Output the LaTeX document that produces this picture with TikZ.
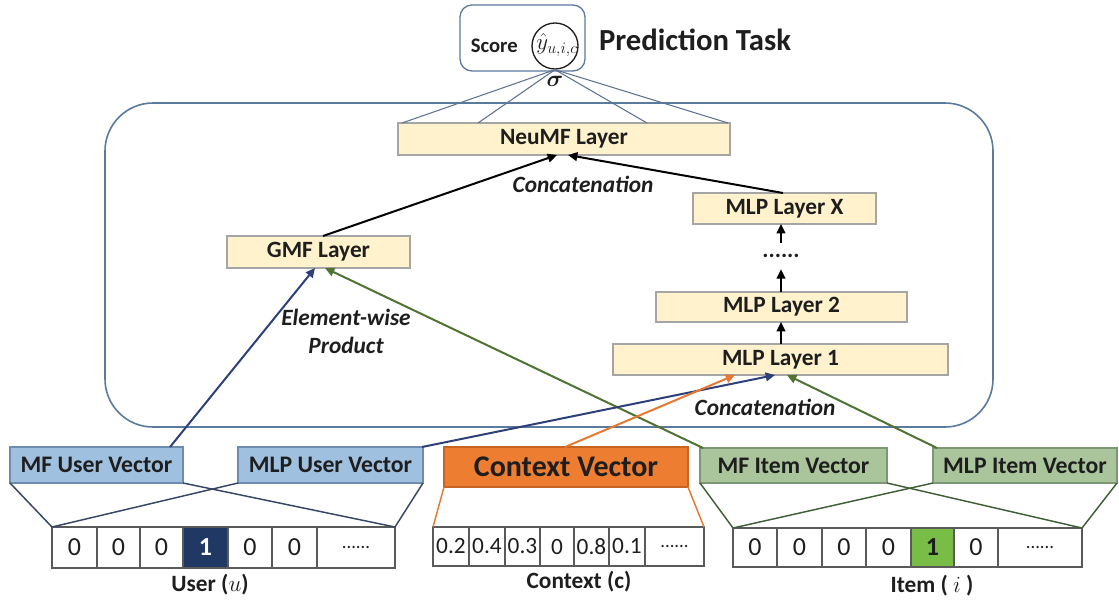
\documentclass[tikz,border=0pt]{standalone}
\usepackage[no-math]{fontspec}
\setmainfont{Carlito}
\usepackage{bm}
\usetikzlibrary{calc,arrows.meta}

\definecolor{layerfill}{RGB}{255,242,204}
\definecolor{layerdraw}{RGB}{165,165,165}
\definecolor{userfill}{RGB}{160,192,224}
\definecolor{userdraw}{RGB}{110,140,175}
\definecolor{itemfill}{RGB}{170,196,156}
\definecolor{itemdraw}{RGB}{125,150,115}
\definecolor{ctxfill}{RGB}{237,125,49}
\definecolor{ctxdraw}{RGB}{200,100,35}
\definecolor{framecol}{RGB}{90,122,158}
\definecolor{navy}{RGB}{31,56,100}
\definecolor{hotgreen}{RGB}{120,190,70}
\definecolor{arrblue}{RGB}{45,65,120}
\definecolor{arrgreen}{RGB}{80,115,50}
\definecolor{arrorange}{RGB}{230,120,50}
\definecolor{celldraw}{RGB}{90,90,90}
\definecolor{userline}{RGB}{55,70,100}
\definecolor{itemline}{RGB}{65,95,55}
\definecolor{scoreline}{RGB}{95,115,145}
\definecolor{ink}{RGB}{30,30,30}

% box given by its corners (in pixel units): name, x1, y1, x2, y2, style, text
\newcommand\pxnode[7]{%
  \node[#6, minimum width={(#4-#2)*0.75pt}, minimum height={(#5-#3)*0.75pt}]
    (#1) at ({(#2+#4)/2},{(#3+#5)/2}) {#7};}

\tikzset{
  boxbase/.style={inner sep=0pt, outer sep=0pt, line width=0.8pt, text=ink},
  layer/.style={boxbase, draw=layerdraw, fill=layerfill,
    font=\fontsize{17.5}{20}\selectfont\bfseries},
  uvec/.style={boxbase, draw=userdraw, fill=userfill,
    font=\fontsize{17.8}{20}\selectfont\bfseries},
  ivec/.style={boxbase, draw=itemdraw, fill=itemfill,
    font=\fontsize{17.8}{20}\selectfont\bfseries},
  cvec/.style={boxbase, draw=ctxdraw, fill=ctxfill,
    font=\fontsize{22.5}{26}\selectfont\bfseries},
  cell/.style={boxbase, draw=celldraw, fill=white,
    font=\fontsize{19.5}{22}\selectfont},
  ccell/.style={cell, font=\fontsize{17.5}{20}\selectfont},
  dotcell/.style={cell, font=\fontsize{14}{16}\selectfont},
  onecell/.style={cell, font=\fontsize{19.5}{22}\selectfont\bfseries},
  lbl/.style={inner sep=0pt, text=ink, font=\fontsize{17.5}{20}\selectfont\bfseries},
  ilbl/.style={lbl, font=\fontsize{17.5}{20}\selectfont\bfseries\itshape},
  tip/.style={-{Triangle[length=7pt,width=6.5pt]}},
  flow/.style={tip, line width=1.5pt},
  fan/.style={line width=1.1pt},
}

\begin{document}
\begin{tikzpicture}[x=0.75pt,y=-0.75pt]
\useasboundingbox (0,0) rectangle (1119,604);

% model frame
\pxnode{model}{105}{103}{993}{427}{draw=framecol, line width=1.2pt, rounded corners=36pt, inner sep=0pt}{}

% prediction output
\pxnode{scorebox}{460}{5}{585}{71}{draw=framecol, line width=1pt, rounded corners=9pt, inner sep=0pt}{}
\node[circle, draw=ink, line width=1pt, minimum size=46*0.75pt, inner sep=0pt] (yhat) at (555,46) {};
\node[inner sep=0pt, text=ink, font=\fontsize{18}{20}\selectfont] (yhatlabel) at (557,45) {$\hat{y}_{u,i,c}$};
\node[lbl, font=\fontsize{15.5}{18}\selectfont\bfseries, anchor=east] (score) at (518,46) {Score};
\node[lbl, font=\fontsize{23}{26}\selectfont\bfseries] (task) at (695,40) {Prediction Task};
\node[inner sep=0pt, text=ink, font=\fontsize{17}{20}\selectfont] (sigma) at (555,81) {$\bm{\sigma}$};

% layers
\pxnode{neumf}{398}{123}{730}{155}{layer}{NeuMF Layer}
\pxnode{gmf}{227}{236}{410}{268}{layer}{GMF Layer}
\pxnode{mlpx}{693}{193}{876}{224}{layer}{MLP Layer X}
\pxnode{mlp2}{656}{292}{907}{322}{layer}{MLP Layer 2}
\pxnode{mlp1}{613}{344}{948}{375}{layer}{MLP Layer 1}
\node[lbl, minimum height=26*0.75pt, inner sep=0pt] (dots) at (781,256) {......};

% fan-in to the score
\foreach \dx in {4,80,249,330}
  \draw[scoreline, line width=0.8pt] (yhat.south) -- ($(neumf.north west)+(\dx,0)$);

% labels inside the model
\node[ilbl] (concatup) at (583,184) {Concatenation};
\node[ilbl] (concatlow) at (765,407) {Concatenation};
\node[ilbl] (elem) at (346,317) {Element-wise};
\node[ilbl] (prod) at (346,345) {Product};

% embedding vectors
\pxnode{mfu}{10}{447}{183}{483}{uvec}{MF User Vector}
\pxnode{mlpu}{238}{447}{423}{483}{uvec}{MLP User Vector}
\pxnode{ctx}{444}{447}{688}{487}{cvec}{Context Vector}
\pxnode{mfi}{700}{448}{887}{483}{ivec}{MF Item Vector}
\pxnode{mlpi}{933}{448}{1117}{483}{ivec}{MLP Item Vector}

% inputs: user one-hot
\pxnode{u1}{52}{527}{97}{568}{cell}{0}
\pxnode{u2}{97}{527}{140}{568}{cell}{0}
\pxnode{u3}{140}{527}{183}{568}{cell}{0}
\pxnode{u4}{183}{527}{228}{568}{onecell, fill=navy, text=white}{1}
\pxnode{u5}{228}{527}{272}{568}{cell}{0}
\pxnode{u6}{272}{527}{317}{568}{cell}{0}
\pxnode{u7}{317}{527}{395}{568}{dotcell}{......}
\node[lbl] (ulabel) at (210,585) {User ($u$)};

% inputs: context features
\pxnode{c1}{433}{527}{469}{566}{ccell}{0.2}
\pxnode{c2}{469}{527}{505}{566}{ccell}{0.4}
\pxnode{c3}{505}{527}{540}{566}{ccell}{0.3}
\pxnode{c4}{540}{527}{574}{566}{ccell}{0}
\pxnode{c5}{574}{527}{609}{566}{ccell}{0.8}
\pxnode{c6}{609}{527}{645}{566}{ccell}{0.1}
\pxnode{c7}{645}{527}{704}{566}{dotcell}{......}
\node[lbl] (clabel) at (579,582) {Context (c)};

% inputs: item one-hot
\pxnode{i1}{733}{528}{777}{567}{cell}{0}
\pxnode{i2}{777}{528}{822}{567}{cell}{0}
\pxnode{i3}{822}{528}{866}{567}{cell}{0}
\pxnode{i4}{866}{528}{911}{567}{cell}{0}
\pxnode{i5}{911}{528}{954}{567}{onecell, fill=hotgreen}{1}
\pxnode{i6}{954}{528}{998}{567}{cell}{0}
\pxnode{i7}{998}{528}{1082}{567}{dotcell}{......}
\node[lbl] (ilabel) at (932,586) {Item ( $i$ )};

% embedding fans
\draw[userline, fan] (mfu.south west) -- (u1.north west);
\draw[userline, fan] (mfu.south east) -- (u7.north east);
\draw[userline, fan] (mlpu.south west) -- (u1.north west);
\draw[userline, fan] (mlpu.south east) -- (u7.north east);
\draw[arrorange, fan] (ctx.south west) -- (c1.north west);
\draw[arrorange, fan] (ctx.south east) -- (c7.north east);
\draw[itemline, fan] (mfi.south west) -- (i1.north west);
\draw[itemline, fan] (mfi.south east) -- (i7.north east);
\draw[itemline, fan] (mlpi.south west) -- (i1.north west);
\draw[itemline, fan] (mlpi.south east) -- (i7.north east);

% GMF branch
\draw[flow, arrblue] ($(mfu.north west)+(160,0)$) -- ($(gmf.south west)+(88,0)$);
\draw[flow, arrgreen] ($(mfi.north west)+(3,0)$) -- ($(gmf.south west)+(98,0)$);

% MLP branch
\draw[flow, arrblue] ($(mlpu.north east)+(-1,0)$) -- ($(mlp1.south west)+(162,0)$);
\draw[flow, arrorange] ($(ctx.north west)+(121,0)$) -- ($(mlp1.south west)+(122,0)$);
\draw[flow, arrgreen] ($(mlpi.north west)+(4,0)$) -- ($(mlp1.south west)+(174,0)$);
\draw[flow, black] (mlp1.north -| dots) -- (mlp2.south -| dots);
\draw[flow, black] (mlp2.north -| dots) -- (dots.south);
\draw[flow, black] (dots.north) -- (mlpx.south -| dots);

% fusion
\draw[flow, black] ($(gmf.north west)+(96,0)$) -- ($(neumf.south west)+(159,0)$);
\draw[flow, black] ($(mlpx.north west)+(90,0)$) -- ($(neumf.south west)+(170,0)$);
\end{tikzpicture}
\end{document}
